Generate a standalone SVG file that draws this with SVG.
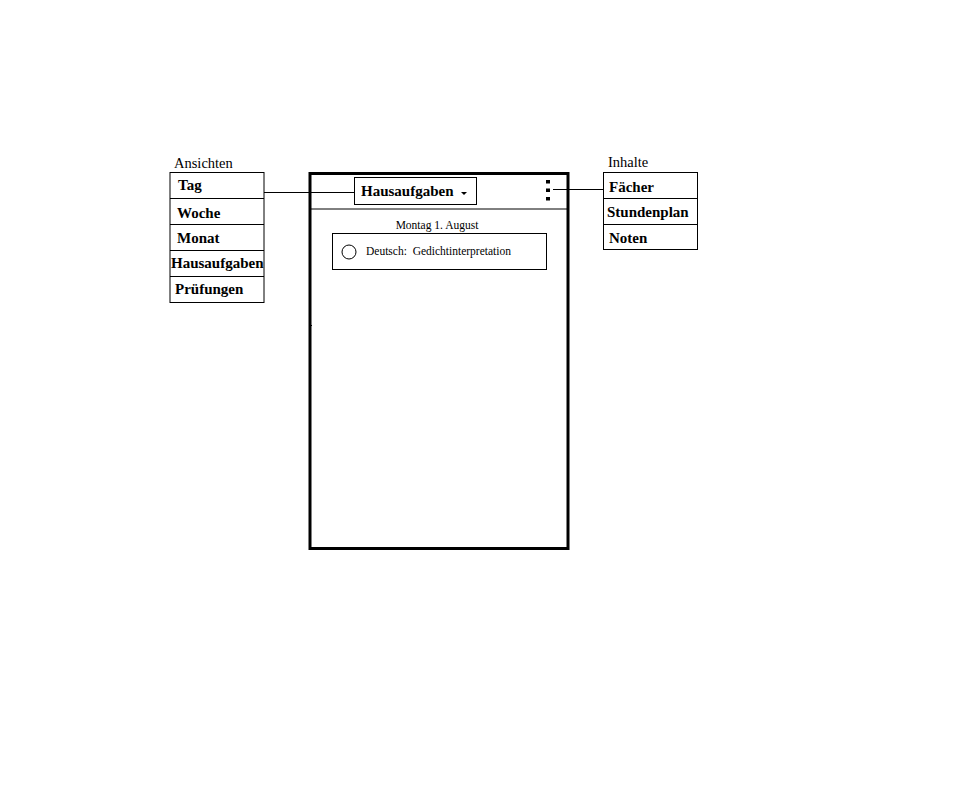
<svg xmlns="http://www.w3.org/2000/svg" width="972" height="798" viewBox="0 0 972 798">
<style>
text{font-family:"Liberation Serif","Times New Roman",serif;fill:#000}
.b{font-weight:bold;font-size:15px}
.t{font-size:14.5px}
.s{font-size:11.5px;white-space:pre}
.box{fill:#fff;stroke:#000;stroke-width:1}
.ln{stroke:#000;stroke-width:1;fill:none}
</style>
<rect width="972" height="798" fill="#fff"/>
<g id="ansichten">
<text class="t" x="174" y="168">Ansichten</text>
<rect class="box" x="170" y="172.5" width="94" height="130"/>
<line class="ln" x1="170" y1="198.5" x2="264" y2="198.5"/>
<line class="ln" x1="170" y1="224.5" x2="264" y2="224.5"/>
<line class="ln" x1="170" y1="250.5" x2="264" y2="250.5"/>
<line class="ln" x1="170" y1="276.5" x2="264" y2="276.5"/>
<text class="b" x="178" y="190">Tag</text>
<text class="b" x="177" y="218">Woche</text>
<text class="b" x="177" y="243">Monat</text>
<text class="b" x="171" y="268">Hausaufgaben</text>
<text class="b" x="175" y="294">Prüfungen</text>
</g>
<g id="phone">
<rect x="310" y="173.5" width="258" height="375" fill="#fff" stroke="#000" stroke-width="3"/>
<line class="ln" x1="310" y1="209" x2="568" y2="209"/>
<line x1="310" y1="325.5" x2="312" y2="325.5" stroke="#000" stroke-width="1"/>
</g>
<g id="dropdown">
<rect class="box" x="354.5" y="177.5" width="122" height="27"/>
<text class="b" x="361" y="196">Hausaufgaben</text>
<polygon points="461,192 467,192 464,195" fill="#000"/>
</g>
<g id="menu-dots">
<rect x="546" y="180" width="4" height="3.5" fill="#000"/>
<rect x="546" y="188.5" width="4" height="3.5" fill="#000"/>
<rect x="546" y="197" width="4" height="3.5" fill="#000"/>
</g>
<g id="date">
<text class="s" x="437" y="229" text-anchor="middle">Montag 1. August</text>
</g>
<g id="task">
<rect class="box" x="332.5" y="233.5" width="214" height="36"/>
<circle cx="349" cy="252" r="7" fill="#fff" stroke="#000" stroke-width="1"/>
<text class="s" x="366" y="255">Deutsch:  Gedichtinterpretation</text>
</g>
<g id="inhalte">
<text class="t" x="608" y="167">Inhalte</text>
<rect class="box" x="603.5" y="172.5" width="94" height="77"/>
<line class="ln" x1="603" y1="198.5" x2="697" y2="198.5"/>
<line class="ln" x1="603" y1="224.5" x2="697" y2="224.5"/>
<text class="b" x="609" y="192">Fächer</text>
<text class="b" x="607" y="217">Stundenplan</text>
<text class="b" x="609" y="243">Noten</text>
</g>
<g id="connectors">
<line class="ln" x1="264" y1="192.5" x2="354" y2="192.5"/>
<line class="ln" x1="553" y1="189.5" x2="603" y2="189.5"/>
</g>
</svg>
